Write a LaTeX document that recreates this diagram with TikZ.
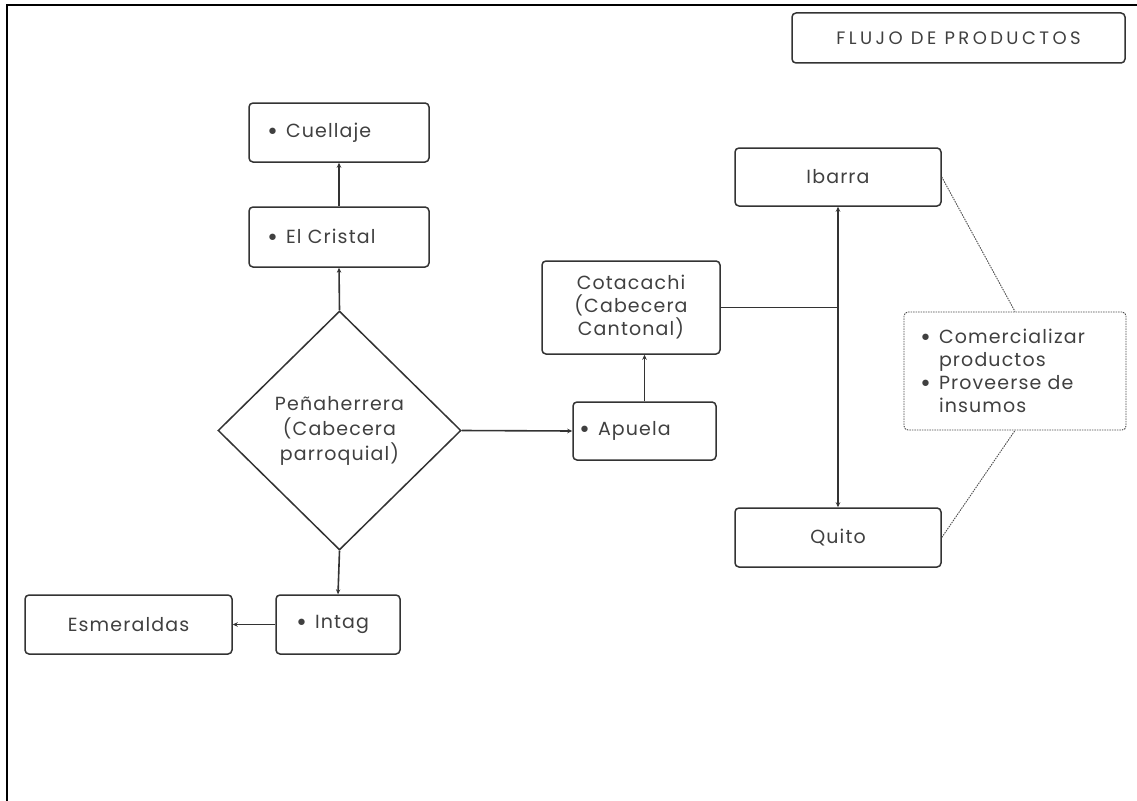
\documentclass[tikz,border=0pt]{standalone}
\usepackage{fontspec}
\setmainfont{Poppins}[LetterSpace=6]
\newfontfamily\titlefont{Poppins}[LetterSpace=19]
\newfontfamily\dvfont{DejaVu Sans}
\newcommand\bul{\makebox[18pt][l]{\hspace*{-2pt}\raisebox{-2pt}{\dvfont\fontsize{22}{22}\selectfont •}}}
\newcommand\nobul{\hspace*{18pt}}
\usetikzlibrary{shapes.geometric,arrows.meta}
\begin{document}
\begin{tikzpicture}[x=1pt,y=-1pt,
  txt/.style={font=\fontsize{19}{23}\selectfont, text=black!75},
  bx/.style 2 args={draw=black!80, line width=1.5pt, rounded corners=4pt, minimum width=#1, minimum height=#2, inner sep=0pt, txt, align=center},
  lbx/.style n args={3}{draw=black!80, line width=1.5pt, rounded corners=4pt, minimum height=#2, inner ysep=0pt, inner xsep=#3, text width=#1-2*#3, txt, align=left},
  dsh/.style={draw=black!70, line width=0.9pt, dash pattern=on 1.5pt off 1pt},
  con/.style={draw=black!80, line width=1.6pt},
  arr/.style={con, -{Stealth[length=5pt,width=4.5pt]}}
]
\useasboundingbox (0,0) rectangle (1137,800);
\fill[white] (0,0) rectangle (1137,800);
% frame
\coordinate (fa) at (7,800);
\coordinate (fb) at (7,5);
\coordinate (fc) at (1137,5);
\draw[line width=2.5pt, line cap=rect] (fa) -- (fb) -- (fc);

\node[bx={333pt}{50pt}, font=\titlefont\fontsize{18}{20}\selectfont] (title) at (958.5,38) {FLUJO DE PRODUCTOS};

\node[lbx={180pt}{59pt}{19pt}] (cuellaje) at (339,132.5) {\bul Cuellaje};
\node[lbx={180pt}{60pt}{19pt}] (cristal) at (339,237) {\bul El Cristal};
\node[diamond, draw=black!80, line width=1.5pt, minimum width=243pt, minimum height=239pt, inner sep=0pt, font=\fontsize{19}{25}\selectfont, text=black!75, align=center] (pena) at (339.5,430.5) {Peñaherrera\\(Cabecera\\parroquial)};
\node[lbx={143pt}{58pt}{7pt}] (apuela) at (644.5,431) {\bul Apuela};
\node[bx={178pt}{93pt}] (cota) at (631,307.5) {Cotacachi\\(Cabecera\\Cantonal)};
\node[bx={206pt}{58pt}] (ibarra) at (838,177) {Ibarra};
\node[bx={206pt}{59pt}] (quito) at (838,537.5) {Quito};
\node[lbx={124pt}{59pt}{21pt}] (intag) at (338,624.5) {\bul Intag};
\node[bx={207pt}{59pt}] (esm) at (128.5,624.5) {Esmeraldas};
\node[dsh, rounded corners=4pt, minimum height=118pt, inner xsep=17pt, inner ysep=0pt, text width=188pt, txt, align=left] (obj) at (1015,371)
  {\bul Comercializar\\\nobul productos\\\bul Proveerse de\\\nobul insumos};

\draw[arr] (pena.north) -- (cristal.south);
\draw[arr] (cristal.north) -- (cuellaje.south);
\draw[arr] (pena.east) -- (apuela.west);
\draw[arr] (apuela.north) -- (apuela.north |- cota.south);
\draw[arr] (pena.south) -- (intag.north);
\draw[arr] (intag.west) -- (esm.east);
\coordinate (jn) at (ibarra.south |- cota.east);
\draw[con] (cota.east) -- (jn);
\draw[con, {Stealth[length=5pt,width=4.5pt]}-{Stealth[length=5pt,width=4.5pt]}] (ibarra.south) -- (quito.north);
\draw[dsh] (ibarra.east) -- (obj.north);
\draw[dsh] (quito.east) -- (obj.south);
\end{tikzpicture}
\end{document}
